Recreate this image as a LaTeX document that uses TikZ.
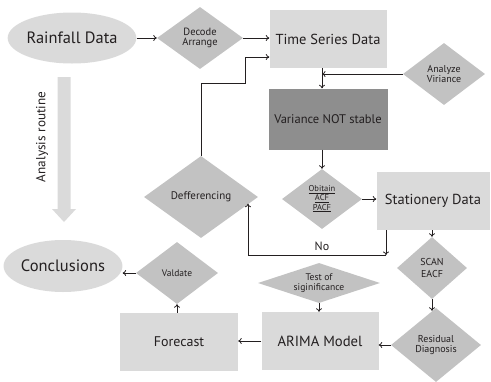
\documentclass[tikz,border=0pt]{standalone}
\usepackage{fontspec}
\setmainfont{PT Sans}
\usetikzlibrary{shapes.geometric,arrows.meta}
\definecolor{ink}{HTML}{231F20}
\definecolor{boxgray}{HTML}{DADADA}
\definecolor{diagray}{HTML}{C2C2C2}
\definecolor{darkgray}{HTML}{8E8E8E}
\newcommand{\fs}[2]{\fontsize{#1}{#2}\selectfont}
\tikzset{
  lbox/.style={rectangle, fill=boxgray, inner sep=0pt, text=ink},
  oval/.style={ellipse, fill=boxgray, inner sep=0pt, text=ink},
  dia/.style={diamond, fill=diagray, inner sep=0pt, align=center, text=ink},
  arr/.style={draw=ink, line width=0.8pt, -{To[length=3.5pt,width=6pt]}},
  wire/.style={draw=ink, line width=0.8pt},
}
\begin{document}
\begin{tikzpicture}[x=1pt,y=-1pt]
\useasboundingbox (0,0) rectangle (491,381);

% main flow nodes
\node[oval, minimum width=110pt, minimum height=51pt, font=\fs{16.4}{18}] (rain) at (72,38) {Rainfall Data};
\node[dia, minimum width=86pt, minimum height=62pt, shape aspect=1.4, font=\fs{10.5}{10.5}] (decode) at (200,38) {Decode\\Arrange};
\node[lbox, minimum width=117pt, minimum height=58pt, font=\fs{14.5}{16}] (ts) at (328,39) {Time Series Data};
\node[dia, minimum width=82pt, minimum height=62pt, shape aspect=1.3, font=\fs{10}{10}] (analyze) at (444,74) {Analyze\\Viriance};
\node[rectangle, fill=darkgray, inner sep=0pt, text=ink, minimum width=119pt, minimum height=61pt, font=\fs{12.5}{14}] (var) at (328,119) {Variance NOT stable};
\node[dia, minimum width=80pt, minimum height=60pt, shape aspect=1.3, font=\fs{8.5}{8}] (obt) at (322,199) {\underline{Obitain}\\\underline{ACF}\\\underline{PACF}};
\node[lbox, minimum width=113pt, minimum height=58pt, font=\fs{14.5}{16}] (stat) at (433,201) {Stationery Data};
\node[dia, minimum width=114pt, minimum height=82pt, shape aspect=1.4, font=\fs{11}{12}] (deff) at (201,197) {Defferencing};
\node[dia, minimum width=70pt, minimum height=62pt, shape aspect=1.1, font=\fs{10}{12.5}] (scan) at (432,268) {SCAN\\EACF};
\node[dia, minimum width=90pt, minimum height=74pt, shape aspect=1.2, font=\fs{10}{10}] (resid) at (436,345) {Residual\\Diagnosis};
\node[lbox, minimum width=117pt, minimum height=58pt, font=\fs{14.7}{16}] (arima) at (320,341) {ARIMA Model};
\node[dia, minimum width=122pt, minimum height=40pt, shape aspect=3, font=\fs{9.6}{10}] (test) at (319,283) {Test of\\siginificance};
\node[lbox, minimum width=118pt, minimum height=58pt, font=\fs{14}{16}] (forecast) at (179,342) {Forecast};
\node[dia, minimum width=82pt, minimum height=62pt, shape aspect=1.3, font=\fs{9.5}{10}] (valid) at (177,273) {Valdate};
\node[oval, minimum width=110pt, minimum height=52pt, font=\fs{16.5}{18}] (concl) at (63,266) {Conclusions};

% broad arrow for the analysis routine
\fill[boxgray] (57.5,77) -- (70.5,77) -- (70.5,209) -- (76,209) -- (64,222)
  -- (52,209) -- (57.5,209) -- cycle;
\node[rotate=90, text=ink, font=\fs{13.2}{15}] (routine) at (42,137) {Analysis routine};

% bend points
\coordinate (j1) at (245,83);
\coordinate (j2) at (245,57);
\coordinate (nocorner) at (386,255);
\coordinate (nocorner2) at (248,255);

% connectors
\draw[arr] (rain.east |- decode.west) -- (decode.west);
\draw[arr] (decode.east) -- (decode.east -| ts.west);
\draw[arr] (deff.north) |- (j1) -- (j2) -- (j2 -| ts.west);
\draw[arr] (obt.north |- ts.south) -- (obt.north |- var.north);
\draw[arr] (analyze.west) -- (analyze.west -| obt.north);
\draw[arr] (obt.north |- var.south) -- (obt.north);
\draw[arr] (obt.east) -- (obt.east -| stat.west);
\draw[arr] (nocorner |- stat.south) -- (nocorner);
\draw[arr] (nocorner) -- (nocorner2) -- (nocorner2 |- deff.-8);
\node[text=ink, font=\fs{12}{14}] (no) at (322,246) {No};
\draw[arr] (scan.north |- stat.south) -- (scan.north);
\draw[arr, shorten >=-3pt] (scan.south) -- (scan.south |- resid.north);
\draw[arr] (resid.west) -- (resid.west -| arima.east);
\draw[arr] (test.south) -- (test.south |- arima.north);
\draw[arr] (arima.west) -- (arima.west -| forecast.east);
\draw[arr] (valid.south |- forecast.north) -- (valid.south);
\draw[arr] (valid.west) -- (concl.east |- valid.west);
\end{tikzpicture}
\end{document}
